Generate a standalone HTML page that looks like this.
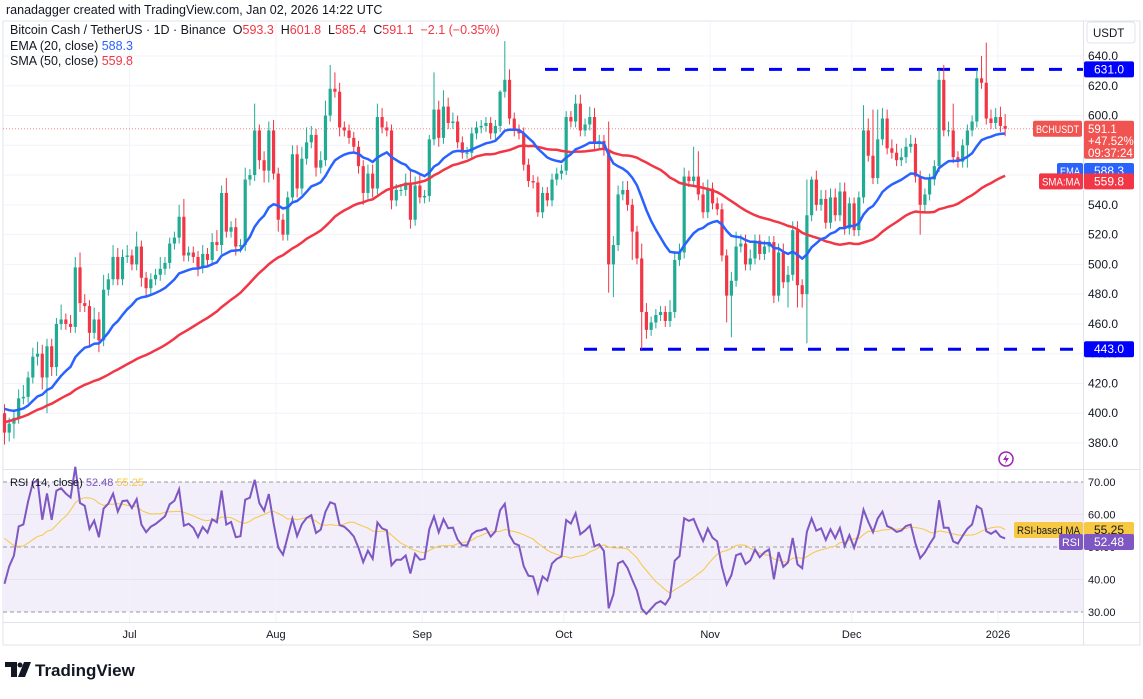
<!DOCTYPE html>
<html><head><meta charset="utf-8"><style>
body{margin:0;background:#fff;width:1143px;height:694px;overflow:hidden;font-family:"Liberation Sans",sans-serif}
svg text{font-family:"Liberation Sans",sans-serif}
</style></head><body>
<svg id="c" width="1143" height="694" xmlns="http://www.w3.org/2000/svg"></svg>
<script>
const closes=[387,393,397,410,411,424,438,440,424,445,
431,460,463,460,458,498,474,472,454,463,
449,483,490,505,490,505,506,500,512,491,
484,490,493,497,501,514,518,532,506,508,
505,498,507,503,515,513,548,522,525,512,
513,557,560,590,570,563,590,561,530,520,
545,574,551,571,582,587,565,570,600,618,
616,592,590,585,579,566,548,561,551,599,
592,590,543,550,550,555,530,553,545,546,
584,604,585,606,595,596,582,575,575,588,
592,593,595,588,593,616,624,598,590,588,
567,556,555,535,548,543,557,561,563,599,
596,608,590,594,599,581,583,577,500,513,
547,550,540,522,504,468,456,461,466,468,
462,468,503,508,559,556,559,547,535,551,
541,537,506,479,489,512,514,500,504,516,
507,512,515,479,508,488,493,523,486,480,
533,557,540,544,528,545,533,549,524,541,
523,545,590,573,558,584,598,578,575,570,
572,579,581,559,540,547,557,566,624,590,
590,572,569,580,590,596,625,622,598,595,
599,593,591.1];
const wickHi=[6,4,5,6,8,4,6,8,6,5,
5,4,10,4,6,7,10,6,4,8,
5,10,4,8,6,5,7,4,10,4,
4,4,4,8,4,4,4,8,12,4,
4,4,6,4,6,8,5,10,4,6,
4,8,4,18,4,6,6,7,4,4,
4,6,6,8,10,6,4,6,10,16,
11,6,4,4,4,4,4,6,6,9,
6,4,4,4,4,6,8,6,8,4,
3,25,6,11,6,6,4,4,4,4,
4,4,4,4,4,1,26,7,4,4,
4,4,4,4,4,4,4,4,4,4,
4,6,6,4,7,6,4,4,19,6,
6,6,6,4,4,10,6,4,4,4,
4,8,6,6,6,4,20,17,8,6,
4,4,4,4,6,10,6,6,6,4,
4,4,4,4,6,6,6,6,6,4,
24,2,6,6,6,6,6,6,6,4,
4,4,17,8,31,20,7,6,6,6,
6,6,6,4,4,4,4,4,7,10,
6,18,4,4,4,4,6,15,27,6,
6,7,8];
const wickLo=[8,6,10,4,4,4,4,6,8,24,
6,6,4,4,4,4,6,4,10,4,
8,4,4,4,4,4,4,4,4,6,
6,4,4,4,4,4,4,4,4,4,
4,6,4,4,4,4,6,4,4,6,
4,4,4,4,6,8,8,4,8,4,
4,4,6,4,4,4,6,4,4,4,
4,6,4,4,4,5,8,4,6,4,
4,4,6,4,4,4,6,4,4,4,
4,4,6,4,4,4,4,4,4,4,
4,4,4,4,4,4,4,4,4,4,
4,4,4,3,4,4,4,4,4,3,
4,4,4,4,4,4,4,4,19,22,
4,4,4,19,4,25,6,4,4,4,
4,4,4,4,4,4,4,4,4,4,
4,4,4,18,28,4,4,4,4,4,
4,4,4,5,4,4,17,4,15,9,
33,4,4,4,4,4,4,4,4,4,
4,4,4,4,4,4,4,4,4,4,
4,4,4,4,20,5,4,4,4,4,
4,4,4,4,15,4,4,4,4,4,
4,4,5];
const firstOpen=400;
const warmup=[350,355,352,358,360,356,362,365,360,368,372,370,375,380,378,385,390,395,392,400,405,410,408,412,418,415,420,416,422,418,414,410,415,412,408,404,410,415,412,407,403,408,410,406,402,405,400,398,402];
const priceTicks=[380,400,420,440,460,480,500,520,540,560,580,600,620,640];
const rsiTicks=[30,40,50,60,70];
const monthLabels=["Jul","Aug","Sep","Oct","Nov","Dec","2026"];
const monthIndex=[27,58,89,119,150,180,211];
const levels=[631.0,443.0];
const lastInfo={price:"591.1",chg:"+47.52%",timer:"09:37:24",ema:"588.3",sma:"559.8",rsi:"52.48",rsiMa:"55.25"};

const svg=document.getElementById('c');const NS='http://www.w3.org/2000/svg';
function mk(t,a,p){const e=document.createElementNS(NS,t);for(const k in a)e.setAttribute(k,a[k]);(p||svg).appendChild(e);return e;}
function tx(s,x,y,a){const e=mk('text',Object.assign({x:x,y:y,'font-size':11,fill:'#131722'},a||{}));e.textContent=s;return e;}
const X=i=>4.5+i*4.72;
const Y=p=>56+(640-p)*1.4885;
const RY=v=>482+(70-v)*3.25;

let r=mk('rect',{x:3,y:21,width:1137,height:624,fill:'none',stroke:'#e0e3eb'});

let hd=tx('ranadagger created with TradingView.com, Jan 02, 2026 14:22 UTC',6,14,{'font-size':12.5,fill:'#131722'});

let rb=mk('rect',{x:3,y:RY(70),width:1080,height:RY(30)-RY(70),fill:'#f2eefa'});

priceTicks.forEach(p=>{const l=mk('line',{x1:3,x2:1083,y1:Y(p),y2:Y(p),stroke:'#f0f3fa'});

const t=tx(p.toFixed(1),1088,Y(p)+4,{'font-size':12});
});
rsiTicks.forEach(v=>{const l=mk('line',{x1:3,x2:1083,y1:RY(v),y2:RY(v),stroke:(v===70||v===50||v===30)?'#9598a1':'#e6e3ef','stroke-dasharray':(v===70||v===50||v===30)?'4,3':'none'});

const t=tx(v.toFixed(2),1088,RY(v)+4,{'font-size':11});
});
monthIndex.forEach((m,k)=>{const x=X(m)-2.4;const l=mk('line',{x1:x,x2:x,y1:22,y2:622,stroke:'#f0f3fa'});

const t=tx(monthLabels[k],x,638,{'font-size':11,'text-anchor':'middle'});
});
let l1=mk('line',{x1:3,x2:1140,y1:469.5,y2:469.5,stroke:'#e0e3eb'});
let l2=mk('line',{x1:3,x2:1140,y1:622.5,y2:622.5,stroke:'#e0e3eb'});
let l3=mk('line',{x1:1083.5,x2:1083.5,y1:21,y2:645,stroke:'#e0e3eb'});
let lp=mk('line',{x1:3,x2:1083,y1:Y(591.1),y2:Y(591.1),stroke:'#f23645','stroke-dasharray':'1,2','stroke-opacity':0.6});

let lv1=mk('line',{x1:545,x2:1083,y1:Y(levels[0]),y2:Y(levels[0]),stroke:'#0000ff','stroke-width':3,'stroke-dasharray':'13,15'});

let lv2=mk('line',{x1:584,x2:1083,y1:Y(levels[1]),y2:Y(levels[1]),stroke:'#0000ff','stroke-width':3,'stroke-dasharray':'13,15'});

for(let i=0;i<closes.length;i++){
 const o=i===0?firstOpen:closes[i-1],c=closes[i];
 const hi=Math.max(o,c)+wickHi[i],lo=Math.min(o,c)-wickLo[i];
 const col=c>=o?'#22ab94':'#f23645';const x=X(i);
 const g=mk('g',{});
 
 
 mk('line',{x1:x,x2:x,y1:Y(hi),y2:Y(lo),stroke:col,'stroke-width':1},g);
 const t=Y(Math.max(o,c)),b=Y(Math.min(o,c));
 mk('rect',{x:x-1.6,y:t,width:3.2,height:Math.max(1,b-t),fill:col},g);
}
const all=warmup.concat(closes);const W=warmup.length;
const ema=[];let e=all[0];const k=2/21;all.forEach((v,i)=>{e=i===0?v:v*k+e*(1-k);ema.push(e);});
const sma=all.map((v,i)=>{const s=Math.max(0,i-49);const a=all.slice(s,i+1);return a.reduce((p,q)=>p+q,0)/a.length;});
function path(arr,fy){let d='';for(let i=0;i<closes.length;i++){d+=(i?'L':'M')+X(i).toFixed(1)+','+fy(arr[i+W]).toFixed(1);}return d;}
let sp=mk('path',{d:path(sma,Y),fill:'none',stroke:'#f23645','stroke-width':2.5});

let ep=mk('path',{d:path(ema,Y),fill:'none',stroke:'#2962ff','stroke-width':2.5});

const rsi=[];let ag=0,al=0;
for(let i=1;i<all.length;i++){const d=all[i]-all[i-1];const g=Math.max(d,0),l=Math.max(-d,0);
 if(i<=14){ag+=g/14;al+=l/14;}else{ag=(ag*13+g)/14;al=(al*13+l)/14;}
 rsi[i]=al===0?100:100-100/(1+ag/al);}
rsi[0]=50;
const rma=rsi.map((v,i)=>{const a=rsi.slice(Math.max(0,i-13),i+1);return a.reduce((p,q)=>p+q,0)/a.length;});
let mp=mk('path',{d:path(rma,RY),fill:'none',stroke:'#f7c843','stroke-width':1});

let rp=mk('path',{d:path(rsi,RY),fill:'none',stroke:'#7e57c2','stroke-width':2});

let lg=tx('',10,34,{'font-size':12.5});
lg.innerHTML='Bitcoin Cash / TetherUS · 1D · Binance  <tspan fill="#131722">O</tspan><tspan fill="#f23645">593.3</tspan>  H<tspan fill="#f23645">601.8</tspan>  L<tspan fill="#f23645">585.4</tspan>  C<tspan fill="#f23645">591.1  −2.1 (−0.35%)</tspan>';
lg.style.whiteSpace='pre';
let le=tx('',10,50,{'font-size':12.5});
le.innerHTML='EMA (20, close) <tspan fill="#2962ff">'+lastInfo.ema+'</tspan>';
let ls=tx('',10,65,{'font-size':12.5});
ls.innerHTML='SMA (50, close) <tspan fill="#f23645">'+lastInfo.sma+'</tspan>';
let lr=tx('',10,486,{'font-size':11});
lr.innerHTML='RSI (14, close) <tspan fill="#7e57c2">'+lastInfo.rsi+'</tspan> <tspan fill="#f7c843">'+lastInfo.rsiMa+'</tspan>';
let ub=mk('rect',{x:1087,y:22,width:48,height:21,rx:3,fill:'#fff',stroke:'#e0e3eb'});
let ut=tx('USDT',1093,37,{'font-size':11.5});
function box(x,y,w,h,fill,txt,name,tc,fs,fit){const g=mk('g',{});
 mk('rect',{x:x,y:y,width:w,height:h,rx:2,fill:fill},g);
 const a={x:x+w/2,y:y+h/2+4,'font-size':fs||12,fill:tc||'#fff','text-anchor':'middle'};
 if(fit){a.textLength=w-6;a.lengthAdjust='spacingAndGlyphs';}
 const t=mk('text',a,g);t.textContent=txt;return g;}
box(1084,Y(631)-8,50,16,'#0000ff','631.0','resistance-label');
box(1084,Y(443)-8,50,16,'#0000ff','443.0','support-label');
box(1033,Y(591.1)-8,49,16,'#f05350','BCHUSDT','symbol-tag','#fff',11,true);
const pb=mk('g',{});
mk('rect',{x:1084,y:Y(591.1)-8,width:50,height:38,rx:2,fill:'#f05350'},pb);
[[lastInfo.price,0],[lastInfo.chg,12],[lastInfo.timer,24]].forEach(a=>{const t=mk('text',{x:1088,y:Y(591.1)+4+a[1],'font-size':11.5,fill:'#fff'},pb);t.textContent=a[0];});
box(1057,Y(588.3)+30,26,16,'#2962ff','EMA','ema-tag','#fff',11,true);
box(1084,Y(588.3)+30,50,16,'#2962ff',lastInfo.ema,'ema-label');
box(1039,Y(559.8)-2,44,16,'#f23645','SMA:MA','sma-tag','#fff',11,true);
box(1084,Y(559.8)-2,50,16,'#f23645',lastInfo.sma,'sma-label');
box(1014,RY(55.25)-8,69,16,'#f7c843','RSI-based MA','rsi-ma-tag','#131722',11,true);
box(1084,RY(55.25)-8,50,16,'#f7c843',lastInfo.rsiMa,'rsi-ma-label','#131722');
box(1059,RY(52.48)-5,24,16,'#7e57c2','RSI','rsi-tag','#fff',11,true);
box(1084,RY(52.48)-5,50,16,'#7e57c2',lastInfo.rsi,'rsi-label');
const li=mk('g',{});
mk('circle',{cx:1006,cy:459,r:7,fill:'none',stroke:'#9c27b0','stroke-width':1.5},li);
mk('path',{d:'M1007,454 L1003,460 L1006,460 L1005,464 L1009,458 L1006,458 Z',fill:'#9c27b0'},li);
const lo=mk('g',{});
mk('path',{d:'M5,662 H17 V677 H11 V667 H5 Z',fill:'#131722'},lo);
mk('circle',{cx:20,cy:665,r:2.5,fill:'#131722'},lo);
mk('path',{d:'M24,662 H31 L25,677 H18 Z',fill:'#131722'},lo);
const lt=mk('text',{x:35,y:676,'font-size':17,'font-weight':'bold',fill:'#131722'},lo);lt.textContent='TradingView';
</script>
</body></html>
